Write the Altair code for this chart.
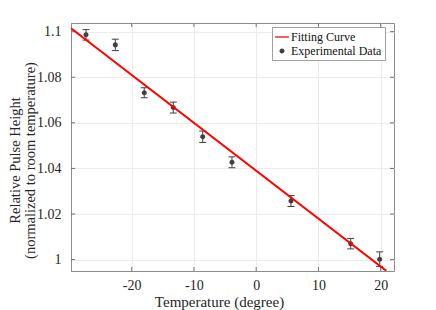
import altair as alt
import pandas as pd

# ---- data ----
temp = [-27.34, -22.63, -17.98, -13.32, -8.59, -3.89, 5.59, 15.18, 19.84]
rel_height = [1.0986, 1.0942, 1.0732, 1.0667, 1.0539, 1.0427, 1.0257, 1.0070, 1.0002]
err = [0.0023, 0.0025, 0.0022, 0.0024, 0.0025, 0.0024, 0.0024, 0.0023, 0.0032]
fit_temp = [-29.75, 20.9]
fit_height = [1.1015, 0.9951]
x_ticks = [-20, -10, 0, 10, 20]
y_ticks = [1.0, 1.02, 1.04, 1.06, 1.08, 1.1]
series = ["Fitting Curve", "Experimental Data"]

W, H = 323, 248
FONT = "Liberation Serif"
TXT = "#262626"
AX = "#8c8c8c"
DOT = "#404040"

pts = pd.DataFrame({"t": temp, "v": rel_height, "e": err, "s": series[1]})
fit = pd.DataFrame({"t": fit_temp, "v": fit_height, "s": series[0]})
xt = pd.DataFrame({"t": x_ticks})
yt = pd.DataFrame({"v": y_ticks})

xs = alt.Scale(domain=[-29.75, 22.14], nice=False, zero=False)
ys = alt.Scale(domain=[0.995, 1.1038], nice=False, zero=False)

line_sym = "M-1,-0.09H1V0.09H-1Z"
dot_sym = "M0.36,0A0.36,0.36 0 1,1 -0.36,0A0.36,0.36 0 1,1 0.36,0Z"
cs = alt.Scale(domain=series, range=["#ff0000", DOT])
ss = alt.Scale(domain=series, range=[line_sym, dot_sym])
leg = alt.Legend(title=None, orient="none", legendX=201, legendY=4)

xaxis = alt.Axis(values=x_ticks, title="Temperature (degree)",
                 labelExpr="'' + datum.value", ticks=False, labelPadding=7,
                 titleX=148, titleY=23, titleAlign="center", titleBaseline="top")
yaxis = alt.Axis(values=y_ticks,
                 title=["Relative Pulse Height", "(normalized to room temperature)"],
                 labelExpr="'' + datum.value", ticks=False, labelPadding=10,
                 titleX=-63, titleY=137, titleAlign="center", titleBaseline="top",
                 titleFontSize=14.5, titleLineHeight=15.5)


def X(field):
    return alt.X(field, scale=xs, axis=xaxis)


def Y(field):
    return alt.Y(field, scale=ys, axis=yaxis)


base_pts = alt.Chart(pts)
TICKC = "#707070"

# inward tick marks on all four sides
top_t = alt.Chart(xt).mark_rule(color=TICKC, strokeWidth=1).encode(
    x=X("t:Q"), y=alt.value(0), y2=alt.value(4))
bot_t = alt.Chart(xt).mark_rule(color=TICKC, strokeWidth=1).encode(
    x=X("t:Q"), y=alt.value(H - 4), y2=alt.value(H))
left_t = alt.Chart(yt).mark_rule(color=TICKC, strokeWidth=1).encode(
    y=Y("v:Q"), x=alt.value(0), x2=alt.value(4))
right_t = alt.Chart(yt).mark_rule(color=TICKC, strokeWidth=1).encode(
    y=Y("v:Q"), x=alt.value(W - 4), x2=alt.value(W))

err_rule = base_pts.transform_calculate(
    lo="datum.v - datum.e", hi="datum.v + datum.e"
).mark_rule(color=DOT, strokeWidth=1).encode(
    x=X("t:Q"), y=Y("lo:Q"), y2="hi:Q")
cap_lo = base_pts.transform_calculate(lo="datum.v - datum.e").mark_tick(
    color=DOT, orient="horizontal", size=7, thickness=1, opacity=1).encode(
    x=X("t:Q"), y=Y("lo:Q"))
cap_hi = base_pts.transform_calculate(hi="datum.v + datum.e").mark_tick(
    color=DOT, orient="horizontal", size=7, thickness=1, opacity=1).encode(
    x=X("t:Q"), y=Y("hi:Q"))

points = base_pts.mark_point(filled=True, size=196, opacity=1).encode(
    x=X("t:Q"), y=Y("v:Q"),
    color=alt.Color("s:N", scale=cs, legend=leg),
    shape=alt.Shape("s:N", scale=ss, legend=leg))

fit_line = alt.Chart(fit).mark_line(strokeWidth=2, clip=True).encode(
    x=X("t:Q"), y=Y("v:Q"),
    color=alt.Color("s:N", scale=cs, legend=leg))

chart = alt.layer(
    points, top_t, bot_t, left_t, right_t, err_rule, cap_lo, cap_hi, fit_line
).properties(
    width=W, height=H,
    padding={"left": 63, "top": 15, "right": 34, "bottom": 39},
    autosize=alt.AutoSizeParams(type="none"),
).configure_view(stroke=AX, strokeWidth=1).configure_axis(
    labelFont=FONT, titleFont=FONT, labelFontSize=14, titleFontSize=15,
    labelColor=TXT, titleColor=TXT, titleFontWeight="normal",
    domainColor=AX, gridColor="#ebebeb", gridWidth=1,
).configure_legend(
    labelFont=FONT, labelFontSize=12, labelColor="#111111",
    strokeColor="#a0a0a0", fillColor="white", padding=3,
    symbolSize=196, rowPadding=1, labelOffset=2, cornerRadius=0,
    symbolStrokeWidth=0,
)

chart.save("out.html", embed_options={"renderer": "svg", "actions": False})
